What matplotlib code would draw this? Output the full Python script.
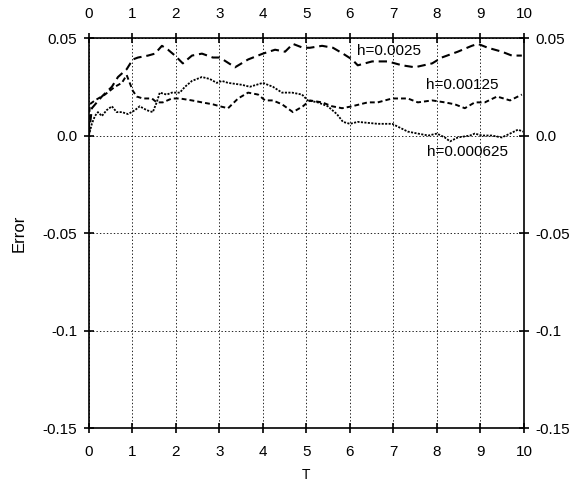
#!/usr/bin/env python3
"""
Error vs. T for three step sizes h, read off the reference figure.
"""

import matplotlib
matplotlib.use("Agg")

import matplotlib.pyplot as plt

plt.rcParams["font.family"] = ["Liberation Sans", "DejaVu Sans"]
plt.rcParams["lines.scale_dashes"] = False

# h = 0.0025 (long dashes)
T_1 = [0.0, 0.07, 0.30, 0.53, 0.67, 0.87, 1.01, 1.13, 1.36, 1.52, 1.68, 1.82,
       1.98, 2.16, 2.37, 2.60, 2.85, 3.01, 3.36, 3.66, 4.00, 4.28, 4.51, 4.69,
       4.92, 5.08, 5.36, 5.61, 5.84, 6.05, 6.18, 6.51, 6.87, 7.20, 7.49, 7.89,
       8.11, 8.48, 8.80, 8.94, 9.17, 9.49, 9.72, 9.95]
E_1 = [0.0, 0.014, 0.020, 0.025, 0.030, 0.034, 0.039, 0.040, 0.041, 0.042,
       0.046, 0.044, 0.041, 0.037, 0.041, 0.042, 0.040, 0.040, 0.035, 0.039,
       0.042, 0.044, 0.043, 0.047, 0.045, 0.045, 0.046, 0.045, 0.042, 0.039,
       0.036, 0.038, 0.038, 0.036, 0.035, 0.037, 0.040, 0.043, 0.046, 0.047,
       0.045, 0.043, 0.041, 0.041]

# h = 0.00125 (medium dashes)
T_2 = [0.0, 0.02, 0.14, 0.37, 0.60, 0.76, 0.87, 0.94, 1.01, 1.10, 1.24, 1.45,
       1.56, 1.70, 1.91, 2.09, 2.37, 2.60, 2.85, 3.01, 3.20, 3.43, 3.66, 3.89,
       4.05, 4.23, 4.44, 4.69, 4.92, 5.08, 5.36, 5.59, 5.82, 6.05, 6.41, 6.64,
       6.97, 7.33, 7.56, 7.89, 8.18, 8.41, 8.64, 8.87, 9.10, 9.38, 9.68, 9.95]
E_2 = [0.0, 0.016, 0.018, 0.021, 0.025, 0.027, 0.031, 0.027, 0.023, 0.020,
       0.019, 0.019, 0.017, 0.017, 0.019, 0.019, 0.018, 0.017, 0.016, 0.015,
       0.014, 0.019, 0.022, 0.021, 0.018, 0.018, 0.016, 0.012, 0.015, 0.018,
       0.017, 0.015, 0.014, 0.015, 0.017, 0.017, 0.019, 0.019, 0.017, 0.018,
       0.017, 0.016, 0.014, 0.017, 0.017, 0.020, 0.018, 0.021]

# h = 0.000625 (fine dots)
T_3 = [0.0, 0.07, 0.14, 0.21, 0.30, 0.41, 0.53, 0.64, 0.76, 0.90, 1.06, 1.17,
       1.33, 1.47, 1.56, 1.63, 1.79, 1.91, 2.09, 2.21, 2.37, 2.60, 2.78, 2.94,
       3.06, 3.20, 3.52, 3.70, 4.00, 4.23, 4.44, 4.67, 4.90, 5.03, 5.26, 5.49,
       5.70, 5.84, 6.00, 6.18, 6.64, 6.97, 7.15, 7.33, 7.56, 7.80, 8.00, 8.18,
       8.30, 8.48, 8.76, 8.87, 9.03, 9.26, 9.49, 9.68, 9.86, 9.98]
E_3 = [0.0, 0.006, 0.010, 0.012, 0.010, 0.013, 0.015, 0.012, 0.012, 0.011,
       0.013, 0.015, 0.013, 0.012, 0.017, 0.022, 0.021, 0.022, 0.022, 0.025,
       0.028, 0.030, 0.029, 0.027, 0.028, 0.027, 0.026, 0.025, 0.027, 0.025,
       0.022, 0.022, 0.021, 0.018, 0.017, 0.015, 0.011, 0.007, 0.006, 0.007,
       0.006, 0.006, 0.004, 0.002, 0.001, 0.0, 0.001, -0.001, -0.003, -0.001,
       0.0, 0.001, 0.0, 0.0, -0.001, 0.001, 0.003, 0.002]

X_TICKS = list(range(0, 11))
Y_TICKS = [0.05, 0.0, -0.05, -0.1, -0.15]
Y_TICK_LABELS = ["0.05", "0.0", "-0.05", "-0.1", "-0.15"]

LABELS = ["h=0.0025", "h=0.00125", "h=0.000625"]
LABEL_POS = [(6.16, 0.0433), (7.75, 0.026), (7.77, -0.0082)]


def main():
    fig = plt.figure(figsize=(5.73, 4.90), dpi=100)
    ax = fig.add_axes([0.155, 0.1265, 0.7595, 0.7959])

    ax.plot(T_1, E_1, color="black", lw=1.5, dashes=(6, 3.5))
    ax.plot(T_2, E_2, color="black", lw=1.4, dashes=(3.5, 2.2))
    ax.plot(T_3, E_3, color="black", lw=1.3, dashes=(1.5, 1.0))

    for txt, (x, y) in zip(LABELS, LABEL_POS):
        ax.text(x, y, txt, fontsize=11, ha="left", va="center")

    ax.set_xlim(0, 10)
    ax.set_ylim(-0.15, 0.05)
    ax.set_xticks(X_TICKS)
    ax.set_xticklabels([str(t) for t in X_TICKS])
    ax.set_yticks(Y_TICKS)
    ax.set_yticklabels(Y_TICK_LABELS)

    ax.grid(True, color="black", linestyle=(0, (1, 1.5)), linewidth=0.6)
    ax.tick_params(direction="inout", length=7, width=1.2, labelsize=11,
                   top=True, right=True, labeltop=True, labelright=True)
    ax.tick_params(axis="x", pad=9)
    ax.tick_params(axis="y", pad=5)
    for sp in ax.spines.values():
        sp.set_linewidth(1.2)

    ax.set_xlabel("T", fontsize=10, labelpad=6)
    ax.set_ylabel("Error", fontsize=12, labelpad=11)

    fig.savefig("out.png", dpi=100)


if __name__ == "__main__":
    main()
